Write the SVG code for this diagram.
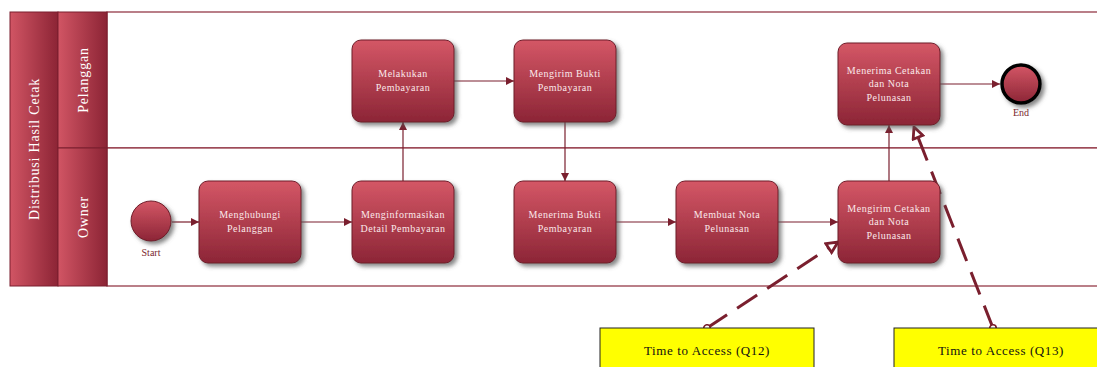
<svg xmlns="http://www.w3.org/2000/svg" width="1097" height="367" viewBox="0 0 1097 367">
  <defs>
    <linearGradient id="taskFill" x1="0" y1="0" x2="0" y2="1">
      <stop offset="0" stop-color="#d45766"/>
      <stop offset="1" stop-color="#8c2536"/>
    </linearGradient>
    <linearGradient id="bandFill" x1="0" y1="0" x2="1" y2="0">
      <stop offset="0" stop-color="#d15564"/>
      <stop offset="1" stop-color="#8c2435"/>
    </linearGradient>
    <filter id="shadow" x="-20%" y="-20%" width="150%" height="150%">
      <feDropShadow dx="3" dy="3" stdDeviation="2" flood-color="#555" flood-opacity="0.7"/>
    </filter>
    <marker id="arrow" viewBox="0 0 10 10" refX="10" refY="5" markerWidth="8" markerHeight="8" markerUnits="userSpaceOnUse" orient="auto">
      <path d="M0,0 L10,5 L0,10 z" fill="#7a1f2e"/>
    </marker>
    <marker id="openArrow" viewBox="0 0 12 12" refX="11" refY="6" markerWidth="14" markerHeight="14" markerUnits="userSpaceOnUse" orient="auto">
      <path d="M1.5,1.5 L11,6 L1.5,10.5 z" fill="#fff" stroke="#7a1f2e" stroke-width="2.4"/>
    </marker>
    <marker id="dot" viewBox="0 0 10 10" refX="5" refY="5" markerWidth="9" markerHeight="9" markerUnits="userSpaceOnUse">
      <circle cx="5" cy="5" r="3.6" fill="#fff" stroke="#7a1f2e" stroke-width="1.8"/>
    </marker>
  </defs>
  <style>
    .lane { fill: #fff; stroke: #8c2a3a; stroke-width: 1.2; }
    .band { fill: url(#bandFill); stroke: #7a1f2e; stroke-width: 1; }
    .bandText { font-family: "Liberation Serif", "DejaVu Serif", serif; font-size: 14px; fill: #fff; letter-spacing: 0.8px; }
    .task { fill: url(#taskFill); stroke: #6e1c29; stroke-width: 1; filter: url(#shadow); }
    .taskText { font-family: "Liberation Serif", "DejaVu Serif", serif; font-size: 10px; fill: #fbe8ea; text-anchor: middle; letter-spacing: 0.5px; }
    .evtLabel { font-family: "Liberation Serif", "DejaVu Serif", serif; font-size: 10px; fill: #7a1f2e; text-anchor: middle; }
    .flow { fill: none; stroke: #7a1f2e; stroke-width: 1.2; marker-end: url(#arrow); }
    .assoc { fill: none; stroke: #7a1f2e; stroke-width: 3; stroke-dasharray: 24 12; marker-start: url(#dot); marker-end: url(#openArrow); }
    .note { fill: #ffff00; stroke: #222; stroke-width: 1; }
    .noteText { font-family: "Liberation Serif", "DejaVu Serif", serif; font-size: 13px; fill: #111; text-anchor: middle; letter-spacing: 0.6px; }
  </style>

  <!-- pool and lanes -->
  <g id="pool">
    <rect class="lane" x="107" y="12" width="995" height="136"/>
    <rect class="lane" x="107" y="148" width="995" height="138"/>
    <rect class="band" x="10" y="12" width="48" height="274"/>
    <rect class="band" x="58" y="12" width="49" height="136"/>
    <rect class="band" x="58" y="148" width="49" height="138"/>
    <text class="bandText" transform="translate(39,149) rotate(-90)" text-anchor="middle">Distribusi Hasil Cetak</text>
    <text class="bandText" transform="translate(88,80) rotate(-90)" text-anchor="middle">Pelanggan</text>
    <text class="bandText" transform="translate(88,217) rotate(-90)" text-anchor="middle">Owner</text>
  </g>

  <!-- sequence and association flows -->
  <g id="connectors">
    <line class="flow" x1="172" y1="222" x2="199" y2="222"/>
    <line class="flow" x1="301" y1="222" x2="352" y2="222"/>
    <line class="flow" x1="403" y1="181" x2="403" y2="122"/>
    <line class="flow" x1="454" y1="81" x2="514" y2="81"/>
    <line class="flow" x1="565" y1="122" x2="565" y2="181"/>
    <line class="flow" x1="616" y1="222" x2="676" y2="222"/>
    <line class="flow" x1="778" y1="222" x2="838" y2="222"/>
    <line class="flow" x1="889" y1="181" x2="889" y2="125"/>
    <line class="flow" x1="940" y1="84" x2="1000" y2="84"/>
    <line class="assoc" x1="707" y1="328" x2="838" y2="242"/>
    <line class="assoc" x1="993" y1="328" x2="914" y2="127"/>
  </g>

  <!-- events -->
  <g id="start">
    <circle cx="151" cy="221" r="20" fill="url(#taskFill)" stroke="#6e1c29" stroke-width="1" filter="url(#shadow)"/>
    <text class="evtLabel" x="151" y="256">Start</text>
  </g>
  <g id="end">
    <circle cx="1021" cy="84" r="19" fill="url(#taskFill)" stroke="#000" stroke-width="3.5" filter="url(#shadow)"/>
    <text class="evtLabel" x="1021" y="116">End</text>
  </g>

  <!-- tasks -->
  <g id="menghubungi">
    <rect class="task" x="199" y="181" width="102" height="82" rx="9"/>
    <text class="taskText" x="250" y="218">Menghubungi</text>
    <text class="taskText" x="250" y="232">Pelanggan</text>
  </g>
  <g id="menginformasikan">
    <rect class="task" x="352" y="181" width="102" height="82" rx="9"/>
    <text class="taskText" x="403" y="218">Menginformasikan</text>
    <text class="taskText" x="403" y="232">Detail Pembayaran</text>
  </g>
  <g id="melakukan">
    <rect class="task" x="352" y="40" width="102" height="82" rx="9"/>
    <text class="taskText" x="403" y="77">Melakukan</text>
    <text class="taskText" x="403" y="91">Pembayaran</text>
  </g>
  <g id="mengirim-bukti">
    <rect class="task" x="514" y="40" width="102" height="82" rx="9"/>
    <text class="taskText" x="565" y="77">Mengirim Bukti</text>
    <text class="taskText" x="565" y="91">Pembayaran</text>
  </g>
  <g id="menerima-bukti">
    <rect class="task" x="514" y="181" width="102" height="82" rx="9"/>
    <text class="taskText" x="565" y="218">Menerima Bukti</text>
    <text class="taskText" x="565" y="232">Pembayaran</text>
  </g>
  <g id="membuat-nota">
    <rect class="task" x="676" y="181" width="102" height="82" rx="9"/>
    <text class="taskText" x="727" y="218">Membuat Nota</text>
    <text class="taskText" x="727" y="232">Pelunasan</text>
  </g>
  <g id="mengirim-cetakan">
    <rect class="task" x="838" y="181" width="102" height="82" rx="9"/>
    <text class="taskText" x="889" y="212">Mengirim Cetakan</text>
    <text class="taskText" x="889" y="225">dan Nota</text>
    <text class="taskText" x="889" y="239">Pelunasan</text>
  </g>
  <g id="menerima-cetakan">
    <rect class="task" x="838" y="43" width="102" height="82" rx="9"/>
    <text class="taskText" x="889" y="74">Menerima Cetakan</text>
    <text class="taskText" x="889" y="87">dan Nota</text>
    <text class="taskText" x="889" y="101">Pelunasan</text>
  </g>

  <!-- annotations -->
  <g id="q12">
    <rect class="note" x="600" y="328" width="214" height="45"/>
    <text class="noteText" x="707" y="355">Time to Access (Q12)</text>
  </g>
  <g id="q13">
    <rect class="note" x="894" y="328" width="214" height="45"/>
    <text class="noteText" x="1001" y="355">Time to Access (Q13)</text>
  </g>
</svg>
